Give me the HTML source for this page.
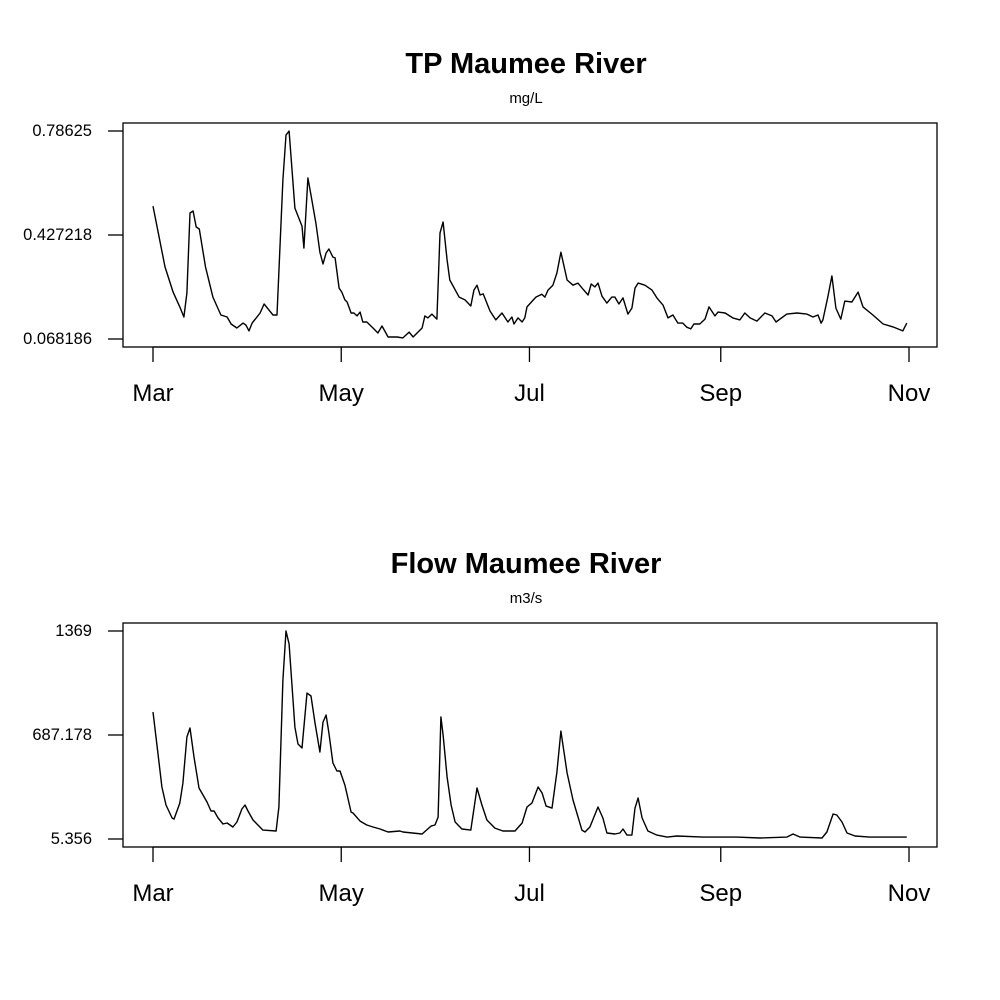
<!DOCTYPE html>
<html><head><meta charset="utf-8"><style>
html,body{margin:0;padding:0;background:#fff;}
svg{display:block;font-family:"Liberation Sans",Arial,sans-serif;}
</style></head><body>
<svg id="chart" width="1000" height="1000" viewBox="0 0 1000 1000"></svg>
<script>
const monthLabels = ["Mar","May","Jul","Sep","Nov"];
const monthDays = [0,61,122,184,245];
const tpTicks = [0.068186,0.427218,0.78625];
const tpTickLabels = ["0.068186","0.427218","0.78625"];
const flowTicks = [5.356,687.178,1369];
const flowTickLabels = ["5.356","687.178","1369"];
const tpDays = [0,3.9,6.5,8.7,10,11,12,13,14,15,17,19.4,22,24,25.3,27.2,29.2,30.1,31.1,32.1,34.7,36,37.3,38.9,40.2,42.1,43.1,44.1,46,48.3,48.9,50.2,51.2,52.8,54.1,55.1,56.1,57,58.3,59,60.3,61.2,62.2,62.9,64.2,65.1,66.1,67.1,68,69.3,71.3,72.9,74.2,76.2,79.1,81,83,84.3,87.2,88.1,89.1,90.4,92,93,94,95.3,96.2,99.2,101.1,103,104,105,106,107,109.2,111.1,113.1,115,116.3,117,118.3,119.6,120.5,121.2,124.1,126,127,128,129.6,130.9,132.2,134.2,136.1,137.7,139.3,141,142,143.2,144.2,145.5,147.1,148.7,149.7,151,152.3,153.9,155.2,156.2,157.2,159.4,161.7,163.3,165.3,166.9,168.5,170.1,171.7,173,174.3,175.3,177.2,178.9,180.2,182.1,183.1,185.4,187.9,190.2,191.8,193.5,195.7,198.3,200.6,201.9,205.4,208.7,211.9,213.9,215.5,216.5,217.1,218.7,220,221.3,222.9,224.2,226.5,228.5,230.1,233.3,236.6,239.8,243,244.3];
const tpValues = [.527,.317,.230,.179,.144,.227,.503,.510,.455,.448,.317,.213,.151,.144,.120,.106,.123,.116,.096,.123,.158,.189,.172,.151,.151,.617,.772,.786,.520,.458,.382,.624,.565,.468,.368,.327,.365,.379,.351,.348,.244,.230,.203,.196,.158,.158,.148,.161,.127,.127,.106,.089,.113,.075,.075,.072,.092,.075,.106,.148,.141,.154,.137,.434,.472,.341,.272,.213,.203,.182,.237,.254,.220,.224,.165,.134,.158,.127,.144,.120,.141,.127,.141,.179,.213,.223,.213,.237,.254,.296,.368,.272,.254,.261,.241,.220,.258,.248,.261,.216,.192,.213,.213,.189,.210,.154,.175,.244,.261,.254,.237,.210,.185,.141,.151,.123,.123,.109,.103,.120,.120,.137,.179,.148,.161,.158,.141,.134,.158,.141,.130,.158,.148,.127,.154,.158,.154,.144,.151,.123,.134,.213,.286,.175,.137,.199,.196,.230,.179,.151,.120,.110,.096,.123];
const flowDays = [0,1.6,2.9,4.2,6.2,6.8,8.7,9.7,11,12,13.3,14.9,17.5,18.8,19.8,21.1,22.7,24,25.9,27.2,28.8,29.8,30.8,32.4,35.6,39.9,40.8,42.1,43.1,44.1,46,47,48.3,49.9,51.2,52.5,54.1,55.1,56.1,57,58.3,59.6,60.6,62.2,64.2,64.8,67.1,69.3,71.3,73.6,76.2,80,81,87.2,90.1,91.4,92.4,93.3,94,95.3,96.6,97.9,100.1,103,105,106.6,108.2,110.8,113.4,117.3,119.6,121.2,122.8,124.8,126.1,127.4,129.3,130.9,132.2,134.2,136.1,139,140,141.6,144.2,145.8,147.1,149.7,151.3,152.3,153.6,155.2,156.2,157.2,158.5,160.4,163.3,166.6,169.8,178.2,189.2,196.7,205.4,207.4,209.7,216.8,218.4,220.4,221.6,223.3,224.9,227.5,232.3,237.9,242.1,244.3];
const flowValues = [838,569,346,228,143,136,241,372,674,733,543,340,248,189,189,143,104,110,84,117,202,228,189,130,64,58,215,1048,1369,1284,739,628,602,962,943,766,576,772,818,700,504,451,451,359,182,176,123,97,84,71,51,58,51,38,90,97,149,805,687,412,228,117,71,64,340,228,130,77,58,58,110,215,241,346,307,221,208,444,713,438,261,64,51,84,215,143,45,38,45,71,31,31,208,274,143,58,31,18,25,18,18,12,18,38,18,12,51,169,163,117,45,25,18,18,18,18];

const NS="http://www.w3.org/2000/svg";
const svg=document.getElementById('chart');
function mk(tag,attrs,parent){const e=document.createElementNS(NS,tag);for(const k in attrs)e.setAttribute(k,attrs[k]);(parent||svg).appendChild(e);return e;}
const xScale=d=>153+d*(909-153)/245;

function panel(top,title,unit,ticks,tickLabels,days,values,key){
  const g=mk('g',{});
  
  
  const yMin=ticks[0],yMax=ticks[ticks.length-1];
  const yScale=v=>(top+216)-(v-yMin)/(yMax-yMin)*(208);
  const t=mk('text',{x:526,y:top-50,'text-anchor':'middle','font-size':29,'font-weight':'bold'},g);
  t.textContent=title;
  
  
  const u=mk('text',{x:526,y:top-20,'text-anchor':'middle','font-size':15},g);
  u.textContent=unit;
  
  
  const box=mk('rect',{x:123,y:top,width:814,height:224,fill:'none',stroke:'#000','stroke-width':1.3},g);
  
  
  ticks.forEach((v,i)=>{
    const y=yScale(v);
    const tk=mk('line',{x1:108,x2:123,y1:y,y2:y,stroke:'#000','stroke-width':1.3},g);
    
    
    const tl=mk('text',{x:92,y:y+5,'text-anchor':'end','font-size':16.5},g);
    tl.textContent=tickLabels[i];
    
    
  });
  const ax=mk('line',{x1:xScale(monthDays[0]),x2:xScale(monthDays[monthDays.length-1]),y1:top+224,y2:top+224,stroke:'#000','stroke-width':1.3},g);
  
  
  monthDays.forEach((d,i)=>{
    const x=xScale(d);
    const tk=mk('line',{x1:x,x2:x,y1:top+224,y2:top+239,stroke:'#000','stroke-width':1.3},g);
    
    
    const tl=mk('text',{x:x,y:top+278,'text-anchor':'middle','font-size':24},g);
    tl.textContent=monthLabels[i];
    
    
  });
  const n=Math.min(days.length,values.length);
  let d='';
  for(let i=0;i<n;i++){d+=(i?'L':'M')+xScale(days[i]).toFixed(1)+','+yScale(values[i]).toFixed(1);}
  const p=mk('path',{d:d,fill:'none',stroke:'#000','stroke-width':1.4,'stroke-linejoin':'round'},g);
  
  
}
panel(123,'TP Maumee River','mg/L',tpTicks,tpTickLabels,tpDays,tpValues,'tp');
panel(623,'Flow Maumee River','m3/s',flowTicks,flowTickLabels,flowDays,flowValues,'flow');
</script>
</body></html>
